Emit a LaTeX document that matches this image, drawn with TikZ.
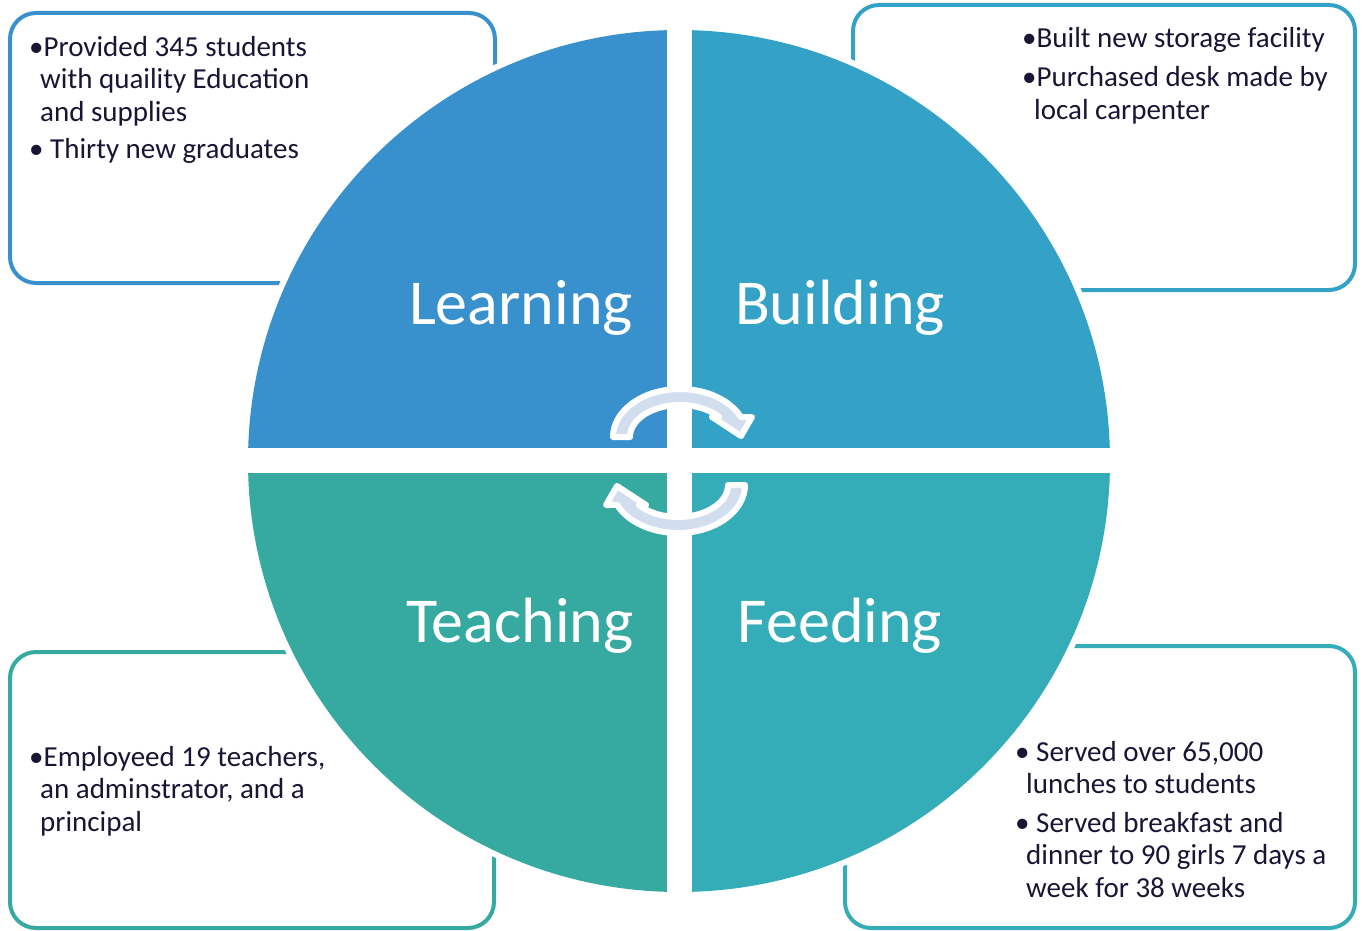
\documentclass[tikz,border=0pt]{standalone}
\usepackage{fontspec}
\setmainfont{Carlito}
\definecolor{learnblue}{RGB}{56,145,205}
\definecolor{buildblue}{RGB}{52,162,198}
\definecolor{teachgreen}{RGB}{54,170,161}
\definecolor{feedteal}{RGB}{53,173,184}
\definecolor{arrowfill}{RGB}{210,222,238}
\definecolor{inktext}{RGB}{24,22,52}

\begin{document}
\begin{tikzpicture}[x=1pt,y=-1pt]
		\tikzstyle{note} = [rounded corners=26pt, line width=4pt, fill=white]
		\tikzstyle{notetext} = [anchor=north west, inner sep=0pt, align=left, text=inktext, font={\fontsize{29}{32.5}\selectfont}]
		\tikzstyle{quadtext} = [anchor=base, inner sep=0pt, text=white, font={\fontsize{64}{66}\selectfont}]
		\tikzstyle{cyc} = [fill=arrowfill, draw=white, line width=6pt, line join=round]
		\useasboundingbox (0,0) rectangle (1362,931);
		% corner boxes
		\draw [note, draw=learnblue] (10,13) rectangle (495,283);
		\draw [note, draw=buildblue] (853,5) rectangle (1355,290);
		\draw [note, draw=teachgreen] (10,652) rectangle (494,928);
		\draw [note, draw=feedteal] (845,646) rectangle (1355,928);
		% the circle in four parts
		\fill [white] (679,461) circle (437);
		\begin{scope}
			\clip (679,461) circle (431);
			\fill [learnblue] (240,20) rectangle (667,448);
			\fill [buildblue] (692,20) rectangle (1120,448);
			\fill [teachgreen] (240,473) rectangle (667,900);
			\fill [feedteal] (692,473) rectangle (1120,900);
		\end{scope}
		\node [quadtext] (learning) at (521,324) {Learning};
		\node [quadtext] (building) at (840,324) {Building};
		\node [quadtext] (teaching) at (520,642) {Teaching};
		\node [quadtext] (feeding) at (840,642) {Feeding};
		% cycle arrows
		\begin{scope}[shift={(680,437)}]
			\filldraw [cyc] (-67,0) arc [start angle=-180, end angle=-24.6, x radius=67, y radius=48] -- (72,-20) -- (61,-1) -- (32,-20) -- (-38.7:50 and 32) arc [start angle=-38.7, end angle=-180, x radius=50, y radius=32] -- cycle;
		\end{scope}
		\begin{scope}[shift={(678,485)}, rotate=180]
			\filldraw [cyc] (-67,0) arc [start angle=-180, end angle=-24.6, x radius=67, y radius=48] -- (72,-20) -- (61,-1) -- (32,-20) -- (-38.7:50 and 32) arc [start angle=-38.7, end angle=-180, x radius=50, y radius=32] -- cycle;
		\end{scope}
		% box texts
		\node [notetext] (learnnote) at (29,36) {\textbullet Provided 345 students\\
			\hspace*{11pt}with quaility Education\\
			\hspace*{11pt}and supplies\\[5pt]
			\textbullet\ Thirty new graduates};
		\node [notetext] (buildnote) at (1022,27) {\textbullet Built new storage facility\\[7pt]
			\textbullet Purchased desk made by\\
			\hspace*{12pt}local carpenter};
		\node [notetext] (teachnote) at (29,746) {\textbullet Employeed 19 teachers,\\
			\hspace*{11pt}an adminstrator, and a\\
			\hspace*{11pt}principal};
		\node [notetext] (feednote) at (1015,741) {\textbullet\ Served over 65,000\\
			\hspace*{11pt}lunches to students\\[6pt]
			\textbullet\ Served breakfast and\\
			\hspace*{11pt}dinner to 90 girls 7 days a\\
			\hspace*{11pt}week for 38 weeks};
\end{tikzpicture}
\end{document}
